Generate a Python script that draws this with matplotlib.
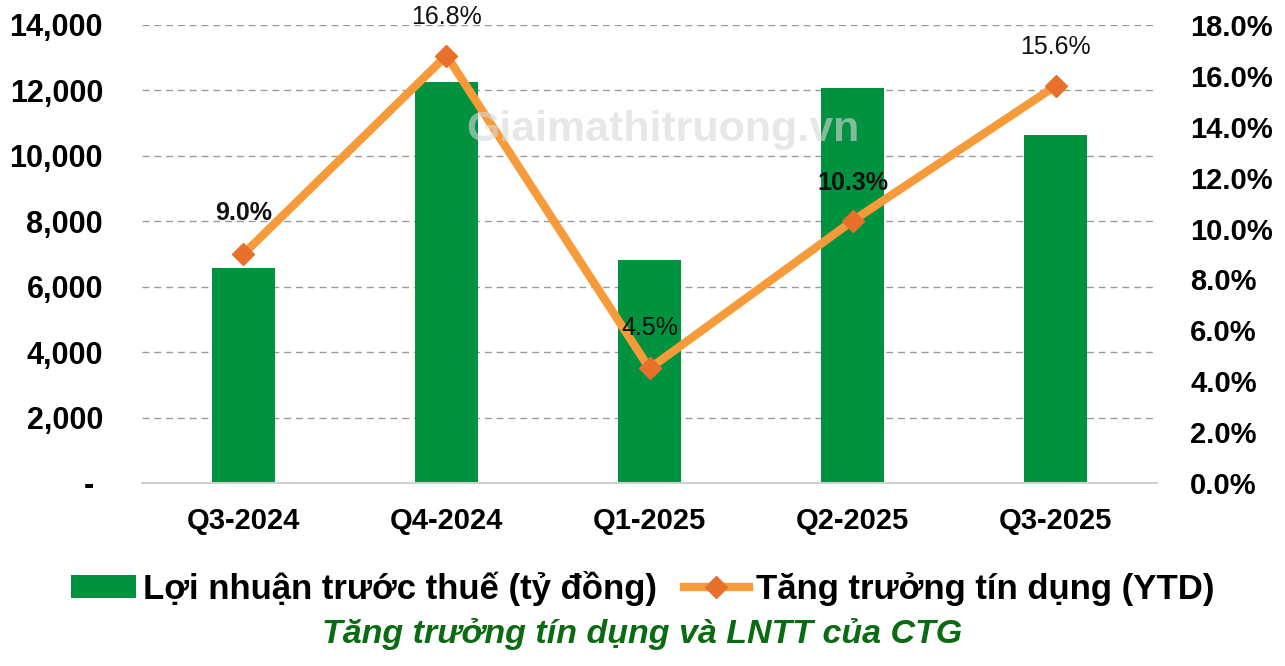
import numpy as np
import matplotlib
matplotlib.use("Agg")
import matplotlib.pyplot as plt
from matplotlib.lines import Line2D
from matplotlib.patches import Patch
from matplotlib.ticker import FuncFormatter

# data
quarters = ["Q3-2024", "Q4-2024", "Q1-2025", "Q2-2025", "Q3-2025"]
profit = [6570, 12260, 6820, 12080, 10640]      # ty dong
credit = [9.0, 16.8, 4.5, 10.3, 15.6]           # % YTD
credit_labels = ["9.0%", "16.8%", "4.5%", "10.3%", "15.6%"]

green = "#00923F"
orange = "#F79A3A"
marker_col = "#E8702A"

plt.rcParams["font.family"] = ["Liberation Sans", "DejaVu Sans"]

fig = plt.figure(figsize=(12.85, 6.66), dpi=100)
ax = fig.add_axes([0.1105, 0.2748, 0.7899, 0.6877])
ax2 = ax.twinx()

x = np.arange(len(quarters))
ax.bar(x, profit, width=0.31, color=green, zorder=2)
ax.set_xlim(-0.5, 4.5)
ax.set_ylim(0, 14000)
ax.set_yticks(np.arange(0, 14001, 2000))
ax.yaxis.set_major_formatter(FuncFormatter(lambda v, p: "- " if v == 0 else f"{v:,.0f}"))
ax.grid(axis="y", color="#9A9A9A", linestyle=(0, (5, 3.5)), linewidth=1, zorder=0)
ax.set_axisbelow(True)

ax2.plot(x, credit, color=orange, linewidth=6, zorder=3,
         marker="D", markersize=11, markerfacecolor=marker_col, markeredgecolor=marker_col)
ax2.set_ylim(0, 18)
ax2.set_yticks(np.arange(0, 18.01, 2))
ax2.yaxis.set_major_formatter(FuncFormatter(lambda v, p: f"{v:.1f}%"))

# data labels (offsets in points)
offsets = [(0, 29.5), (0, 28), (0, 29.5), (0, 27), (0, 28)]
weights = ["bold", "normal", "normal", "bold", "normal"]
for xi, yi, lab, off, w in zip(x, credit, credit_labels, offsets, weights):
    ax2.annotate(lab, (xi, yi), xytext=off, textcoords="offset points",
                 ha="center", va="center", fontsize=18, fontweight=w, color="#111111", zorder=5)

for a in (ax, ax2):
    for s in a.spines.values():
        s.set_visible(False)
    a.tick_params(length=0)
ax.spines["bottom"].set_visible(True)
ax.spines["bottom"].set_color("#D0D0D0")
ax.spines["bottom"].set_linewidth(1.5)

ax.set_xticks(x)
ax.set_xticklabels(quarters, fontsize=21, fontweight="bold")
ax.tick_params(axis="x", pad=17)
ax.tick_params(axis="y", labelsize=22, pad=28)
for t in ax.get_yticklabels():
    t.set_fontweight("bold")
ax2.tick_params(axis="y", labelsize=21, pad=24)
for t in ax2.get_yticklabels():
    t.set_fontweight("bold")

# watermark
fig.text(0.516, 0.805, "Giaimathitruong.vn", fontsize=31, fontweight="bold",
         color="#D8D8D8", alpha=0.6, ha="center", va="center", zorder=1)

handles = [Patch(facecolor=green, edgecolor="none"),
           Line2D([0], [0], color=orange, linewidth=6, marker="D", markersize=11,
                  markerfacecolor=marker_col, markeredgecolor=marker_col)]
leg = fig.legend(handles, ["Lợi nhuận trước thuế (tỷ đồng)", "Tăng trưởng tín dụng (YTD)"],
                 loc="center", bbox_to_anchor=(0.5, 0.117), ncol=2, frameon=False,
                 prop={"size": 25, "weight": "bold"}, handlelength=1.87, handleheight=0.65,
                 handletextpad=0.2, columnspacing=0.78)

fig.text(0.5, 0.048, "Tăng trưởng tín dụng và LNTT của CTG", fontsize=24.5,
         fontweight="bold", fontstyle="italic", color="#0B6B12", ha="center", va="center")

fig.savefig("out.png", dpi=100)
